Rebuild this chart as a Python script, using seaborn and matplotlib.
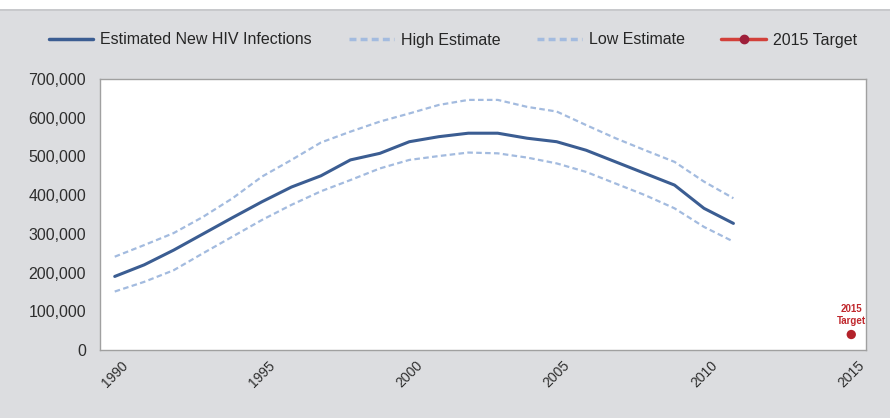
import matplotlib
matplotlib.use("Agg")
import matplotlib.pyplot as plt
import seaborn as sns
import pandas as pd
from matplotlib.lines import Line2D
from matplotlib.patches import Rectangle
from matplotlib.ticker import FuncFormatter, FixedLocator

# data
years = list(range(1990, 2012))
estimated = [190000, 220000, 258000, 300000, 342000, 383000, 421000, 450000,
             491000, 508000, 538000, 551000, 560000, 560000, 547000, 538000,
             516000, 486000, 456000, 426000, 366000, 327000]
high = [241000, 271000, 302000, 344000, 392000, 448000, 491000, 536000,
        564000, 590000, 611000, 633000, 646000, 646000, 628000, 616000,
        581000, 547000, 516000, 486000, 435000, 392000]
low = [151000, 176000, 206000, 250000, 293000, 336000, 375000, 410000,
       439000, 469000, 491000, 501000, 510000, 508000, 497000, 482000,
       460000, 430000, 400000, 366000, 318000, 280000]
target_year = [2015]
target_value = [40000]
tick_years = [1990, 1995, 2000, 2005, 2010, 2015]
legend_labels = ['Estimated New HIV Infections', 'High Estimate',
                 'Low Estimate', '2015 Target']

MAIN = '#3b5d92'
LIGHT = '#a3bbdf'
RED = '#c0282d'
BG = '#dcdde0'

sns.set_style('white')
plt.rcParams['font.family'] = ['Liberation Sans', 'DejaVu Sans']

fig = plt.figure(figsize=(8.9, 4.18), dpi=100, facecolor=BG)
fig.patches.append(Rectangle((0, 1 - 9 / 418), 1, 9 / 418, transform=fig.transFigure,
                             facecolor='white', edgecolor='none', zorder=0))
fig.patches.append(Rectangle((0, 1 - 11 / 418), 1, 2 / 418, transform=fig.transFigure,
                             facecolor='#c8c9cc', edgecolor='none', zorder=0))

ax = fig.add_axes([100 / 890, 1 - 350 / 418, 766 / 890, 271 / 418])
ax.set_facecolor('white')

df = pd.DataFrame({'year': years, 'estimated': estimated, 'high': high, 'low': low})

sns.lineplot(data=df, x='year', y='high', color=LIGHT, lw=1.6, linestyle='--', ax=ax)
ax.lines[-1].set_dashes([2.5, 1.5])
sns.lineplot(data=df, x='year', y='low', color=LIGHT, lw=1.6, linestyle='--', ax=ax)
ax.lines[-1].set_dashes([2.5, 1.5])
sns.lineplot(data=df, x='year', y='estimated', color=MAIN, lw=2.2, ax=ax)
sns.scatterplot(x=target_year, y=target_value, color='#b3222a', s=45,
                edgecolor='none', ax=ax, zorder=5)
ax.annotate('2015\nTarget', xy=(target_year[0], target_value[0]), xytext=(0, 6),
            textcoords='offset points', ha='center', va='bottom', color=RED,
            fontsize=7, fontweight='bold', linespacing=1.25)

ax.set_xlim(1989.5, 2015.5)
ax.set_ylim(0, 700000)
ax.yaxis.set_major_locator(FixedLocator(range(0, 700001, 100000)))
ax.yaxis.set_major_formatter(FuncFormatter(lambda v, p: f'{v:,.0f}'))
ax.set_xticks(tick_years)
ax.set_xticks([y - 0.5 for y in range(1990, 2017)], minor=True)
ax.set_xticklabels([str(y) for y in tick_years], rotation=45, ha='center')
ax.tick_params(axis='x', which='major', length=0, pad=6, labelsize=10,
               labelcolor='#2e2e2e')
ax.tick_params(axis='x', which='minor', length=4, width=0.8, color='#a0a0a0',
               direction='out')
ax.tick_params(axis='y', length=4, width=0.8, color='#a0a0a0', direction='out',
               pad=6, labelsize=11.5, labelcolor='#2e2e2e')
ax.set_xlabel('')
ax.set_ylabel('')
for s in ax.spines.values():
    s.set_color('#a0a0a0')
    s.set_linewidth(1.0)

handles = [
    Line2D([], [], color=MAIN, lw=2.5),
    Line2D([], [], color=LIGHT, lw=2.5, dashes=[2, 1.2]),
    Line2D([], [], color=LIGHT, lw=2.5, dashes=[2, 1.2]),
    Line2D([], [], color='#d2403a', lw=2.5, marker='o', markersize=6,
           markerfacecolor='#9e1f3a', markeredgecolor='#9e1f3a'),
]
leg = fig.legend(handles, legend_labels, loc='center', bbox_to_anchor=(453 / 890, 1 - 40 / 418),
                 ncol=4, frameon=False, handlelength=2.8, handletextpad=0.44,
                 columnspacing=2.3, fontsize=11.5)

fig.savefig('out.png', dpi=100, facecolor=BG)
